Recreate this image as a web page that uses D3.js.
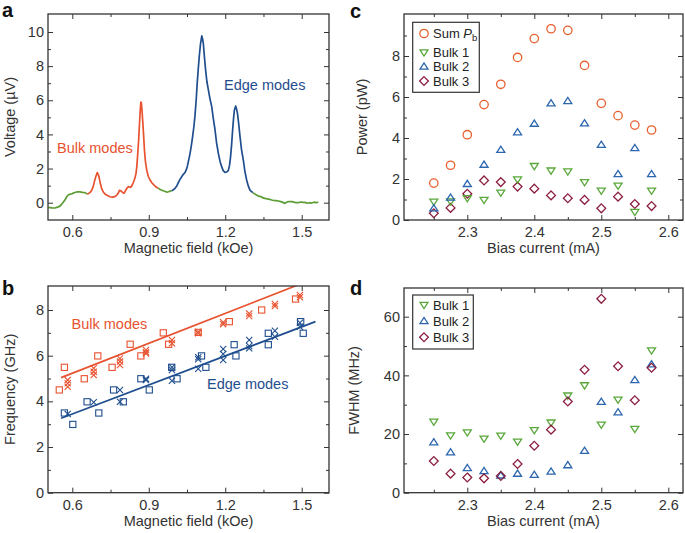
<!DOCTYPE html>
<html><head><meta charset="utf-8">
<script src="https://cdn.jsdelivr.net/npm/d3@7"></script>
<style>
html,body{margin:0;padding:0;background:#fff;}
svg{display:block;}
</style></head>
<body>
<svg id="chart" width="685" height="533"></svg>
<script>
// ---------------- DATA ----------------
// Panel a: voltage spectrum segments [field kOe, voltage µV]
const aNoiseLow = [[0.506,-0.27],[0.52,-0.3],[0.532,-0.31],[0.542,-0.26],[0.552,-0.2],[0.562,-0.02],[0.571,0.16],[0.578,0.35],[0.584,0.45],[0.59,0.5],[0.597,0.51],[0.603,0.56],[0.61,0.6],[0.62,0.64],[0.63,0.63],[0.64,0.6],[0.65,0.59],[0.659,0.5]];
const aBulk = [[0.659,0.5],[0.669,0.59],[0.676,0.72],[0.682,0.94],[0.687,1.25],[0.692,1.52],[0.698,1.76],[0.702,1.65],[0.706,1.43],[0.71,1.12],[0.715,0.84],[0.721,0.64],[0.728,0.51],[0.738,0.42],[0.748,0.35],[0.757,0.33],[0.767,0.36],[0.774,0.43],[0.78,0.55],[0.785,0.72],[0.79,0.7],[0.796,0.62],[0.803,0.55],[0.81,0.74],[0.815,0.86],[0.82,0.94],[0.825,0.92],[0.829,0.9],[0.834,1.0],[0.839,1.17],[0.845,1.4],[0.85,1.72],[0.853,2.1],[0.856,2.7],[0.86,3.6],[0.863,4.45],[0.866,5.3],[0.869,5.9],[0.871,5.85],[0.874,5.3],[0.876,4.84],[0.88,3.9],[0.883,3.09],[0.887,2.4],[0.892,1.91],[0.898,1.55],[0.905,1.33],[0.912,1.17],[0.92,1.04],[0.928,0.93],[0.937,0.84]];
const aNoiseMid = [[0.937,0.84],[0.945,0.78],[0.952,0.72],[0.957,0.7],[0.965,0.66],[0.972,0.62],[0.977,0.64],[0.984,0.68],[0.99,0.7]];
const aEdge = [[0.99,0.7],[0.997,0.76],[1.003,0.84],[1.01,0.98],[1.016,1.17],[1.022,1.35],[1.029,1.52],[1.035,1.65],[1.042,1.76],[1.047,1.92],[1.051,2.11],[1.056,2.45],[1.062,2.89],[1.067,3.35],[1.072,3.87],[1.077,4.45],[1.081,5.04],[1.086,6.0],[1.09,6.99],[1.094,7.8],[1.098,8.55],[1.103,9.3],[1.108,9.77],[1.111,9.6],[1.114,9.34],[1.118,8.6],[1.123,7.77],[1.128,7.1],[1.134,6.6],[1.14,6.1],[1.147,5.63],[1.153,4.95],[1.16,4.26],[1.166,3.5],[1.173,2.89],[1.18,2.4],[1.186,2.11],[1.192,1.88],[1.199,1.78],[1.206,1.8],[1.212,1.88],[1.217,2.2],[1.221,2.7],[1.225,3.4],[1.229,4.26],[1.233,5.0],[1.236,5.43],[1.241,5.66],[1.245,5.45],[1.248,5.23],[1.253,4.6],[1.258,3.87],[1.264,3.1],[1.271,2.5],[1.277,1.85],[1.284,1.33],[1.29,1.0],[1.297,0.74],[1.308,0.59]];
const aNoiseHigh = [[1.308,0.59],[1.318,0.5],[1.33,0.39],[1.34,0.36],[1.348,0.28],[1.356,0.25],[1.365,0.22],[1.374,0.2],[1.382,0.16],[1.39,0.14],[1.4,0.12],[1.408,0.1],[1.418,0.06],[1.426,0.02],[1.435,-0.04],[1.443,0.05],[1.452,0.07],[1.461,0.06],[1.47,0.03],[1.478,0.0],[1.487,0.0],[1.495,0.04],[1.504,0.02],[1.513,0.02],[1.522,-0.03],[1.53,0.0],[1.539,-0.02],[1.548,0.03],[1.557,0.0],[1.565,0.04]];

// Panel b: frequency vs field
const bBulkSqX = [0.549,0.569,0.647,0.7,0.756,0.827,0.869,0.957,0.978,1.094,1.216,1.343,1.476];
const bBulkSqY = [4.5,5.49,4.99,5.99,5.49,6.5,5.99,7.0,6.5,7.02,7.49,8.0,8.48];
const bBulkXx = [0.582,0.582,0.582,0.684,0.684,0.684,0.787,0.787,0.787,0.889,0.889,0.889,0.991,0.991,1.094,1.094,1.192,1.192,1.294,1.294,1.395,1.395,1.493,1.493];
const bBulkXy = [4.93,4.79,4.64,5.45,5.30,5.15,5.88,5.74,5.59,6.25,6.15,6.1,6.69,6.54,7.05,6.98,7.46,7.38,7.85,7.74,8.26,8.17,8.66,8.56];
const bEdgeSqX = [0.569,0.602,0.658,0.704,0.762,0.8,0.869,0.902,0.99,1.011,1.107,1.124,1.235,1.242,1.369,1.369,1.496,1.506];
const bEdgeSqY = [3.49,2.99,3.98,3.49,4.5,3.98,4.99,4.5,5.49,4.99,5.99,5.49,6.48,5.99,6.98,6.48,7.49,6.98];
const bEdgeXx = [0.582,0.684,0.787,0.787,0.889,0.889,0.991,0.991,0.991,1.094,1.094,1.094,1.192,1.192,1.192,1.294,1.294,1.294,1.395,1.395,1.493,1.493];
const bEdgeXy = [3.45,3.96,4.5,3.98,4.99,4.93,5.49,5.37,4.9,5.93,5.84,5.43,6.29,6.07,5.81,6.69,6.42,6.32,7.09,6.83,7.44,7.27];
const bBulkFit = [[0.556,5.04],[1.55,9.38]];
const bEdgeFit = [[0.556,3.26],[1.554,7.49]];

// Panels c, d: bias current (mA)
const current = [2.25,2.275,2.3,2.325,2.35,2.375,2.4,2.425,2.45,2.475,2.5,2.525,2.55,2.575];
const cSum   = [1.80,2.67,4.16,5.63,6.62,7.93,8.85,9.33,9.25,7.54,5.69,5.09,4.63,4.39];
const cBulk1 = [0.89,0.9,1.06,0.98,1.33,1.98,2.63,2.41,2.37,1.84,1.43,1.67,0.39,1.43];
const cBulk2 = [0.57,1.1,1.76,2.7,3.43,4.28,4.70,5.69,5.80,4.72,3.67,2.24,3.51,2.24];
const cBulk3 = [0.33,0.59,1.28,1.93,1.85,1.63,1.53,1.2,1.06,0.98,0.57,1.14,0.78,0.68];
const dBulk1 = [24.2,19.5,20.5,18.4,19.4,17.4,21.3,23.9,33.1,36.6,23.2,31.7,21.7,48.5];
const dBulk2 = [17.2,13.75,8.4,7.4,5.9,6.5,6.1,7.2,9.4,14.3,31.0,27.4,38.4,43.8];
const dBulk3 = [10.8,6.5,5.2,4.9,5.7,9.8,16.0,21.5,31.1,41.9,66.1,43.1,31.5,42.6];

// Tick values
const fieldMajor = [0.6,0.9,1.2,1.5];
const fieldMinor = [0.75,1.05,1.35];
const voltMajor = [0,2,4,6,8,10];
const voltMinor = [1,3,5,7,9];
const freqMajor = [0,2,4,6,8];
const freqMinor = [1,3,5,7];
const curMajor = [2.3,2.4,2.5,2.6];
const curMinor = [2.25,2.35,2.45,2.55];
const powMajor = [0,2,4,6,8];
const powMinor = [1,3,5,7,9];
const fwhmMajor = [0,20,40,60];
const fwhmMinor = [10,30,50];

// ---------------- STYLE ----------------
const FONT = '"Liberation Sans", Arial, Helvetica, sans-serif';
const RED = '#e8522f', BLUE = '#1f4e8e', GREEN = '#5c9e34';
const C_SUM = '#e8602f', C_B1 = '#5aa83c', C_B2 = '#2c66ae', C_B3 = '#8b1e3f';
const AXC = '#333';

const svg = d3.select('#chart').style('font-family', FONT);

function drawAxes(xs, ys, box, xMaj, xMin, yMaj, yMin, fx, fy) {
  const g = svg.append('g');
  const style = sel => {
    sel.select('.domain').remove();
    sel.selectAll('line').attr('stroke', AXC).attr('stroke-width', 1);
    sel.selectAll('text').attr('fill', '#333').style('font-size', '14.5px').style('font-family', FONT);
  };
  g.append('g').attr('transform', `translate(0,${box.b})`)
    .call(d3.axisBottom(xs).tickValues(xMaj).tickSize(-5).tickPadding(7).tickFormat(fx)).call(style);
  g.append('g').attr('transform', `translate(0,${box.b})`)
    .call(d3.axisBottom(xs).tickValues(xMin).tickSize(-3).tickFormat('')).call(style);
  g.append('g').attr('transform', `translate(0,${box.t})`)
    .call(d3.axisTop(xs).tickValues(xMaj).tickSize(-5).tickFormat('')).call(style);
  g.append('g').attr('transform', `translate(0,${box.t})`)
    .call(d3.axisTop(xs).tickValues(xMin).tickSize(-3).tickFormat('')).call(style);
  g.append('g').attr('transform', `translate(${box.l},0)`)
    .call(d3.axisLeft(ys).tickValues(yMaj).tickSize(-5).tickPadding(4).tickFormat(fy)).call(style);
  g.append('g').attr('transform', `translate(${box.l},0)`)
    .call(d3.axisLeft(ys).tickValues(yMin).tickSize(-3).tickFormat('')).call(style);
  g.append('g').attr('transform', `translate(${box.r},0)`)
    .call(d3.axisRight(ys).tickValues(yMaj).tickSize(-5).tickFormat('')).call(style);
  g.append('g').attr('transform', `translate(${box.r},0)`)
    .call(d3.axisRight(ys).tickValues(yMin).tickSize(-3).tickFormat('')).call(style);
  svg.append('rect').attr('x', box.l).attr('y', box.t).attr('width', box.r - box.l).attr('height', box.b - box.t)
    .attr('fill', 'none').attr('stroke', AXC).attr('stroke-width', 1.3);
}
function xTitle(text, box) {
  svg.append('text').attr('x', (box.l + box.r) / 2).attr('y', box.b + 33).attr('text-anchor', 'middle')
    .style('font-size', '14.5px').attr('fill', '#333').text(text);
}
function yTitle(text, box, bx) {
  svg.append('text').attr('transform', `translate(${bx},${(box.t + box.b) / 2}) rotate(-90)`)
    .attr('text-anchor', 'middle').style('font-size', '14.5px').attr('fill', '#333').text(text);
}
function panelLetter(t, x, y) {
  svg.append('text').attr('x', x).attr('y', y).style('font-size', '20px').style('font-weight', 'bold')
    .attr('fill', '#111').text(t);
}
const fmt1 = d3.format('.1f'), fmt0 = d3.format('d');

// ---------------- PANEL A ----------------
const boxA = {l: 48, r: 329, t: 14, b: 220};
const xA = d3.scaleLinear().domain([0.6, 1.5]).range([72.3, 301.7]);
const yA = d3.scaleLinear().domain([0, 10]).range([202.7, 32]);
const lineA = d3.line().x(d => xA(d[0])).y(d => yA(d[1]));
[[aNoiseLow, GREEN], [aBulk, RED], [aNoiseMid, GREEN], [aEdge, BLUE], [aNoiseHigh, GREEN]].forEach(([d, c]) => {
  svg.append('path').datum(d).attr('d', lineA).attr('fill', 'none').attr('stroke', c)
    .attr('stroke-width', 1.7).attr('stroke-linejoin', 'round');
});
drawAxes(xA, yA, boxA, fieldMajor, fieldMinor, voltMajor, voltMinor, fmt1, fmt0);
xTitle('Magnetic field (kOe)', boxA);
yTitle('Voltage (\u00B5V)', boxA, 15);
svg.append('text').attr('x', 57).attr('y', 153).style('font-size', '14.5px').attr('fill', RED).text('Bulk modes');
svg.append('text').attr('x', 224).attr('y', 90).style('font-size', '14.5px').attr('fill', BLUE).text('Edge modes');
panelLetter('a', 2, 17);

// ---------------- PANEL B ----------------
const boxB = {l: 48, r: 329, t: 286, b: 492.7};
const xB = d3.scaleLinear().domain([0.6, 1.5]).range([72.3, 301.7]);
const yB = d3.scaleLinear().domain([0, 8]).range([492.7, 310]);
svg.append('clipPath').attr('id', 'clipB').append('rect')
  .attr('x', boxB.l).attr('y', boxB.t).attr('width', boxB.r - boxB.l).attr('height', boxB.b - boxB.t);
const gB = svg.append('g').attr('clip-path', 'url(#clipB)');
const lineB = d3.line().x(d => xB(d[0])).y(d => yB(d[1]));
gB.append('path').datum(bBulkFit).attr('d', lineB).attr('stroke', RED).attr('stroke-width', 1.7).attr('fill', 'none');
gB.append('path').datum(bEdgeFit).attr('d', lineB).attr('stroke', BLUE).attr('stroke-width', 1.7).attr('fill', 'none');
function squares(xsArr, ysArr, color) {
  gB.selectAll(null).data(xsArr.map((v, i) => [v, ysArr[i]])).enter().append('rect')
    .attr('x', d => xB(d[0]) - 3.1).attr('y', d => yB(d[1]) - 3.1).attr('width', 6.2).attr('height', 6.2)
    .attr('fill', 'none').attr('stroke', color).attr('stroke-width', 1.1);
}
function crosses(xsArr, ysArr, color) {
  gB.selectAll(null).data(xsArr.map((v, i) => [v, ysArr[i]])).enter().append('path')
    .attr('d', d => { const cx = xB(d[0]), cy = yB(d[1]), s = 3.1;
      return `M${cx - s},${cy - s}L${cx + s},${cy + s}M${cx - s},${cy + s}L${cx + s},${cy - s}`; })
    .attr('stroke', color).attr('stroke-width', 1.1).attr('fill', 'none');
}
squares(bBulkSqX, bBulkSqY, RED);
crosses(bBulkXx, bBulkXy, RED);
squares(bEdgeSqX, bEdgeSqY, BLUE);
crosses(bEdgeXx, bEdgeXy, BLUE);
drawAxes(xB, yB, boxB, fieldMajor, fieldMinor, freqMajor, freqMinor, fmt1, fmt0);
xTitle('Magnetic field (kOe)', boxB);
yTitle('Frequency (GHz)', boxB, 15);
svg.append('text').attr('x', 71.5).attr('y', 328.5).style('font-size', '14.5px').attr('fill', RED).text('Bulk modes');
svg.append('text').attr('x', 207).attr('y', 389).style('font-size', '14.5px').attr('fill', BLUE).text('Edge modes');
panelLetter('b', 2, 295);

// ---------------- marker symbols ----------------
const symCircle = (g, x, y, c) => g.append('circle').attr('cx', x).attr('cy', y).attr('r', 4.2)
  .attr('fill', 'none').attr('stroke', c).attr('stroke-width', 1.3);
const symDown = (g, x, y, c) => g.append('path')
  .attr('d', `M${x - 4},${y - 2.6}L${x + 4},${y - 2.6}L${x},${y + 3.6}Z`)
  .attr('fill', 'none').attr('stroke', c).attr('stroke-width', 1.3).attr('stroke-linejoin', 'miter');
const symUp = (g, x, y, c) => g.append('path')
  .attr('d', `M${x - 4},${y + 2.6}L${x + 4},${y + 2.6}L${x},${y - 3.6}Z`)
  .attr('fill', 'none').attr('stroke', c).attr('stroke-width', 1.3).attr('stroke-linejoin', 'miter');
const symDiamond = (g, x, y, c) => g.append('path')
  .attr('d', `M${x},${y - 4.4}L${x + 4.4},${y}L${x},${y + 4.4}L${x - 4.4},${y}Z`)
  .attr('fill', 'none').attr('stroke', c).attr('stroke-width', 1.3);

function scatter(g, xs, ys, vals, sym, c) {
  current.forEach((cur, i) => sym(g, xs(cur), ys(vals[i]), c));
}

// ---------------- PANEL C ----------------
const boxC = {l: 404, r: 683, t: 14, b: 220};
const xC = d3.scaleLinear().domain([2.3, 2.6]).range([467.3, 668.3]);
const yC = d3.scaleLinear().domain([0, 8]).range([220, 56]);
const gC = svg.append('g');
scatter(gC, xC, yC, cBulk3, symDiamond, C_B3);
scatter(gC, xC, yC, cBulk1, symDown, C_B1);
scatter(gC, xC, yC, cBulk2, symUp, C_B2);
scatter(gC, xC, yC, cSum, symCircle, C_SUM);
drawAxes(xC, yC, boxC, curMajor, curMinor, powMajor, powMinor, fmt1, fmt0);
xTitle('Bias current (mA)', boxC);
yTitle('Power (pW)', boxC, 367);
panelLetter('c', 350, 18);
// legend c
svg.append('rect').attr('x', 412.7).attr('y', 22.3).attr('width', 66.6).attr('height', 70)
  .attr('fill', '#fff').attr('stroke', AXC).attr('stroke-width', 1.2);
const legC = [[symCircle, C_SUM, 33.5], [symDown, C_B1, 52.5], [symUp, C_B2, 66.5], [symDiamond, C_B3, 81]];
legC.forEach(([s, c, y]) => s(svg, 424, y, c));
const tSum = svg.append('text').attr('x', 433).attr('y', 38).style('font-size', '13px').attr('fill', '#222');
tSum.append('tspan').text('Sum ');
tSum.append('tspan').style('font-style', 'italic').text('P');
tSum.append('tspan').attr('dy', 3).style('font-size', '9.5px').text('b');
['Bulk 1', 'Bulk 2', 'Bulk 3'].forEach((t, i) => {
  svg.append('text').attr('x', 433).attr('y', [57, 71, 85.5][i]).style('font-size', '13px').attr('fill', '#222').text(t);
});

// ---------------- PANEL D ----------------
const boxD = {l: 404, r: 683, t: 288, b: 492.7};
const xD = d3.scaleLinear().domain([2.3, 2.6]).range([467.3, 668.3]);
const yD = d3.scaleLinear().domain([0, 60]).range([492.7, 316.7]);
const gD = svg.append('g');
scatter(gD, xD, yD, dBulk1, symDown, C_B1);
scatter(gD, xD, yD, dBulk2, symUp, C_B2);
scatter(gD, xD, yD, dBulk3, symDiamond, C_B3);
drawAxes(xD, yD, boxD, curMajor, curMinor, fwhmMajor, fwhmMinor, fmt1, fmt0);
xTitle('Bias current (mA)', boxD);
yTitle('FWHM (MHz)', boxD, 359);
panelLetter('d', 350, 295);
svg.append('rect').attr('x', 412.7).attr('y', 295).attr('width', 60.6).attr('height', 54)
  .attr('fill', '#fff').attr('stroke', AXC).attr('stroke-width', 1.2);
const legD = [[symDown, C_B1, 305], [symUp, C_B2, 321], [symDiamond, C_B3, 337.3]];
legD.forEach(([s, c, y]) => s(svg, 424, y, c));
['Bulk 1', 'Bulk 2', 'Bulk 3'].forEach((t, i) => {
  svg.append('text').attr('x', 433).attr('y', [309.5, 325.5, 342][i]).style('font-size', '13px').attr('fill', '#222').text(t);
});
</script>
</body></html>
